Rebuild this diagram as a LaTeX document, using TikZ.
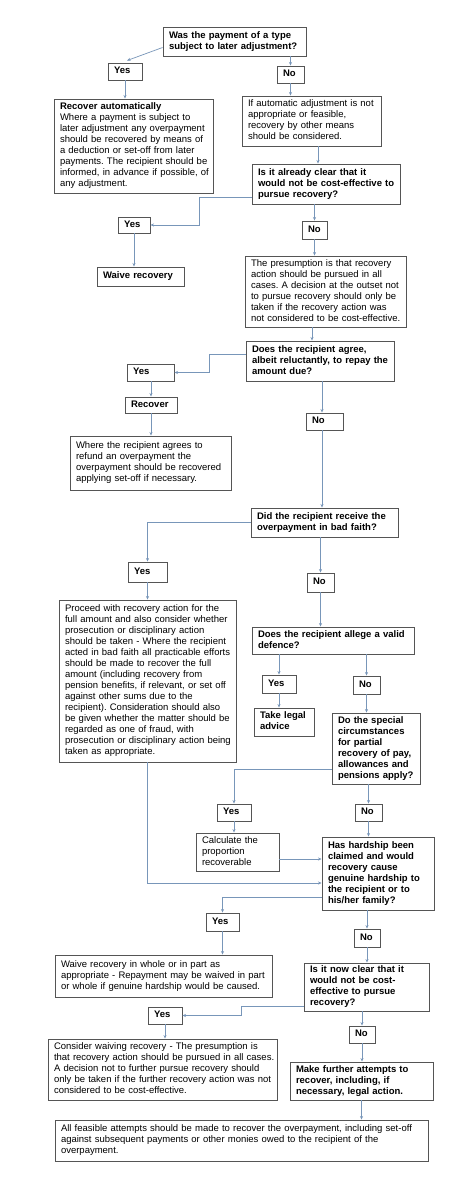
\documentclass[tikz,border=0pt]{standalone}
\usepackage{fontspec}
\setmainfont{Liberation Sans}
\usetikzlibrary{arrows.meta,positioning}
\definecolor{boxc}{RGB}{85,85,85}
\definecolor{arrowc}{RGB}{120,150,185}
\tikzset{
  base/.style={draw=boxc, line width=0.9pt, rectangle, inner xsep=6pt, inner ysep=0pt, align=left, font=\fontsize{9.5}{11}\selectfont},
  box/.style={base},
  qbox/.style={base, font=\fontsize{9.5}{11}\selectfont\bfseries},
  arr/.style={draw=arrowc, line width=0.7pt, -{Stealth[length=3.5pt,width=3pt]}}
}
\newcommand{\tl}[1]{\begin{tabular}{@{}l@{}}#1\end{tabular}}
\frenchspacing
\begin{document}
\begin{tikzpicture}[x=1pt,y=-1pt]
\useasboundingbox[fill=white] (0,0) rectangle (474,1186);

\node[qbox, text width=131pt, minimum height=29pt] (q1) at (234.5,41.5) {\tl{Was the payment of a type\\subject to later adjustment?}};
\node[qbox, text width=22pt, minimum height=17pt] (y1) at (125,71.5) {\tl{Yes}};
\node[qbox, text width=15pt, minimum height=17pt] (n1) at (290.5,74.5) {\tl{No}};
\node[box, text width=147pt, minimum height=94pt] (recauto) at (133.5,146) {\tl{\textbf{Recover automatically}\\Where a payment is subject to\\later adjustment any overpayment\\should be recovered by means of\\a deduction or set-off from later\\payments. The recipient should be\\informed, in advance if possible, of\\any adjustment.}};
\node[box, text width=127pt, minimum height=50pt] (ifauto) at (311.5,121) {\tl{If automatic adjustment is not\\appropriate or feasible,\\recovery by other means\\should be considered.}};
\node[qbox, text width=136pt, minimum height=40pt] (q2) at (326,184) {\tl{Is it already clear that it\\would not be cost-effective to\\pursue recovery?}};
\node[qbox, text width=20pt, minimum height=16pt] (y2) at (134,225) {\tl{Yes}};
\node[qbox, text width=75pt, minimum height=19pt] (waive) at (140.5,276.5) {\tl{Waive recovery}};
\node[qbox, text width=13pt, minimum height=18pt] (n2) at (314.5,230) {\tl{No}};
\node[box, text width=149pt, minimum height=71pt] (pres) at (325.5,291.5) {\tl{The presumption is that recovery\\action should be pursued in all\\cases. A decision at the outset not\\to pursue recovery should only be\\taken if the recovery action was\\not considered to be cost-effective.}};
\node[qbox, text width=136pt, minimum height=40pt] (q3) at (320,361) {\tl{Does the recipient agree,\\albeit reluctantly, to repay the\\amount due?}};
\node[qbox, text width=35pt, minimum height=17pt] (y3) at (150.5,372.5) {\tl{Yes}};
\node[qbox, text width=40pt, minimum height=16pt] (recover) at (151,405) {\tl{Recover}};
\node[box, text width=149pt, minimum height=54pt] (where) at (150.5,463) {\tl{Where the recipient agrees to\\refund an overpayment the\\overpayment should be recovered\\applying set-off if necessary.}};
\node[qbox, text width=25pt, minimum height=17pt] (n3) at (324.5,421.5) {\tl{No}};
\node[qbox, text width=135pt, minimum height=29pt] (q4) at (324.5,522.5) {\tl{Did the recipient receive the\\overpayment in bad faith?}};
\node[qbox, text width=27pt, minimum height=20pt] (y4) at (147.5,572) {\tl{Yes}};
\node[qbox, text width=15pt, minimum height=19pt] (n4) at (320.5,582.5) {\tl{No}};
\node[box, text width=165pt, minimum height=162pt] (proceed) at (147.5,681) {\tl{Proceed with recovery action for the\\full amount and also consider whether\\prosecution or disciplinary action\\should be taken - Where the recipient\\acted in bad faith all practicable efforts\\should be made to recover the full\\amount (including recovery from\\pension benefits, if relevant, or set off\\against other sums due to the\\recipient). Consideration should also\\be given whether the matter should be\\regarded as one of fraud, with\\prosecution or disciplinary action being\\taken as appropriate.}};
\node[qbox, text width=150pt, minimum height=27pt] (q5) at (333,640.5) {\tl{Does the recipient allege a valid\\defence?}};
\node[qbox, text width=22pt, minimum height=18pt] (y5) at (279,684) {\tl{Yes}};
\node[qbox, text width=48pt, minimum height=28pt] (legal) at (284,722) {\tl{Take legal\\advice}};
\node[qbox, text width=15pt, minimum height=18pt] (n5) at (366.5,685) {\tl{No}};
\node[qbox, text width=76pt, minimum height=71pt] (q6) at (376,748.5) {\tl{Do the special\\circumstances\\for partial\\recovery of pay,\\allowances and\\pensions apply?}};
\node[qbox, text width=22pt, minimum height=17pt] (y6) at (234,812.5) {\tl{Yes}};
\node[qbox, text width=15pt, minimum height=17pt] (n6) at (368.5,812.5) {\tl{No}};
\node[box, text width=71pt, minimum height=38pt] (calc) at (237.5,852) {\tl{Calculate the\\proportion\\recoverable}};
\node[qbox, text width=100pt, minimum height=73pt] (q7) at (378,873.5) {\tl{Has hardship been\\claimed and would\\recovery cause\\genuine hardship to\\the recipient or to\\his/her family?}};
\node[qbox, text width=21pt, minimum height=18pt] (y7) at (222.5,922) {\tl{Yes}};
\node[qbox, text width=14pt, minimum height=18pt] (n7) at (367,938) {\tl{No}};
\node[box, text width=205pt, minimum height=42pt] (ww) at (163.5,976) {\tl{Waive recovery in whole or in part as\\appropriate - Repayment may be waived in part\\or whole if genuine hardship would be caused.}};
\node[qbox, text width=113pt, minimum height=48pt] (q8) at (366.5,987) {\tl{Is it now clear that it\\would not be cost-\\effective to pursue\\recovery?}};
\node[qbox, text width=22pt, minimum height=17pt] (y8) at (165,1015.5) {\tl{Yes}};
\node[qbox, text width=14pt, minimum height=17pt] (n8) at (362,1034.5) {\tl{No}};
\node[box, text width=217pt, minimum height=61pt] (consider) at (162.5,1069.5) {\tl{Consider waiving recovery - The presumption is\\that recovery action should be pursued in all cases.\\A decision not to further pursue recovery should\\only be taken if the further recovery action was not\\considered to be cost-effective.}};
\node[qbox, text width=131pt, minimum height=38pt] (make) at (361.5,1081) {\tl{Make further attempts to\\recover, including, if\\necessary, legal action.}};
\node[box, text width=361pt, minimum height=41pt] (all) at (241.5,1140.5) {\tl{All feasible attempts should be made to recover the overpayment, including set-off\\against subsequent payments or other monies owed to the recipient of the\\overpayment.}};

% connectors
\draw[arr] ([yshift=-6pt]q1.west) -- ([xshift=2pt,yshift=2pt]y1.north);
\draw[arr] (n1.north |- q1.south) -- (n1.north);
\draw[arr] (y1.south) -- (y1.south |- recauto.north);
\draw[arr] (n1.south) -- (n1.south |- ifauto.north);
\draw[arr] ([xshift=6.5pt]ifauto.south) -- ([xshift=6.5pt]ifauto.south |- q2.north);
\draw[arr] ([yshift=-13pt]q2.west) -- ++(-52,0) |- (y2.east);
\draw[arr] (n2.north |- q2.south) -- (n2.north);
\draw[arr] (y2.south) -- (y2.south |- waive.north);
\draw[arr] (n2.south) -- (n2.south |- pres.north);
\draw[arr] ([xshift=-13.5pt]pres.south) -- ([xshift=-13.5pt]pres.south |- q3.north);
\draw[arr] ([yshift=7pt]q3.west) -- ++(-36,0) |- (y3.east);
\draw[arr] ([xshift=2pt]q3.south) -- ([xshift=2pt]q3.south |- n3.north);
\draw[arr] (recover.north |- y3.south) -- (recover.north);
\draw[arr] (recover.south) -- (recover.south |- where.north);
\draw[arr] ([xshift=2pt]q3.south |- n3.south) -- ([xshift=2pt]q3.south |- q4.north);
\draw[arr] (q4.west) -| (y4.north);
\draw[arr] (n4.north |- q4.south) -- (n4.north);
\draw[arr] (y4.south) -- (y4.south |- proceed.north);
\draw[arr] (n4.south) -- (n4.south |- q5.north);
\draw[arr] (y5.north |- q5.south) -- (y5.north);
\draw[arr] (n5.north |- q5.south) -- (n5.north);
\draw[arr] (y5.south) -- (y5.south |- legal.north);
\draw[arr] (n5.south) -- (n5.south |- q6.north);
\draw[arr] ([yshift=-20.5pt]q6.west) -| (y6.north);
\draw[arr] (n6.north |- q6.south) -- (n6.north);
\draw[arr] (n6.south) -- (n6.south |- q7.north);
\draw[arr] (y6.south) -- (y6.south |- calc.north);
\draw[arr] ([yshift=-7pt]calc.east) -- ([yshift=-7pt]calc.east -| q7.west);
\draw[arr] (proceed.south) |- ([yshift=-9.5pt]q7.west);
\draw[arr] ([yshift=-23.5pt]q7.west) -| (y7.north);
\draw[arr] (n7.north |- q7.south) -- (n7.north);
\draw[arr] (y7.south) -- (y7.south |- ww.north);
\draw[arr] (n7.south) -- (n7.south |- q8.north);
\draw[arr] ([yshift=-19pt]q8.west) -- ++(-62,0) |- (y8.east);
\draw[arr] (y8.south) -- (y8.south |- consider.north);
\draw[arr] (n8.north |- q8.south) -- (n8.north);
\draw[arr] (n8.south) -- (n8.south |- make.north);
\draw[arr] (make.south) -- (make.south |- all.north);
\end{tikzpicture}
\end{document}
